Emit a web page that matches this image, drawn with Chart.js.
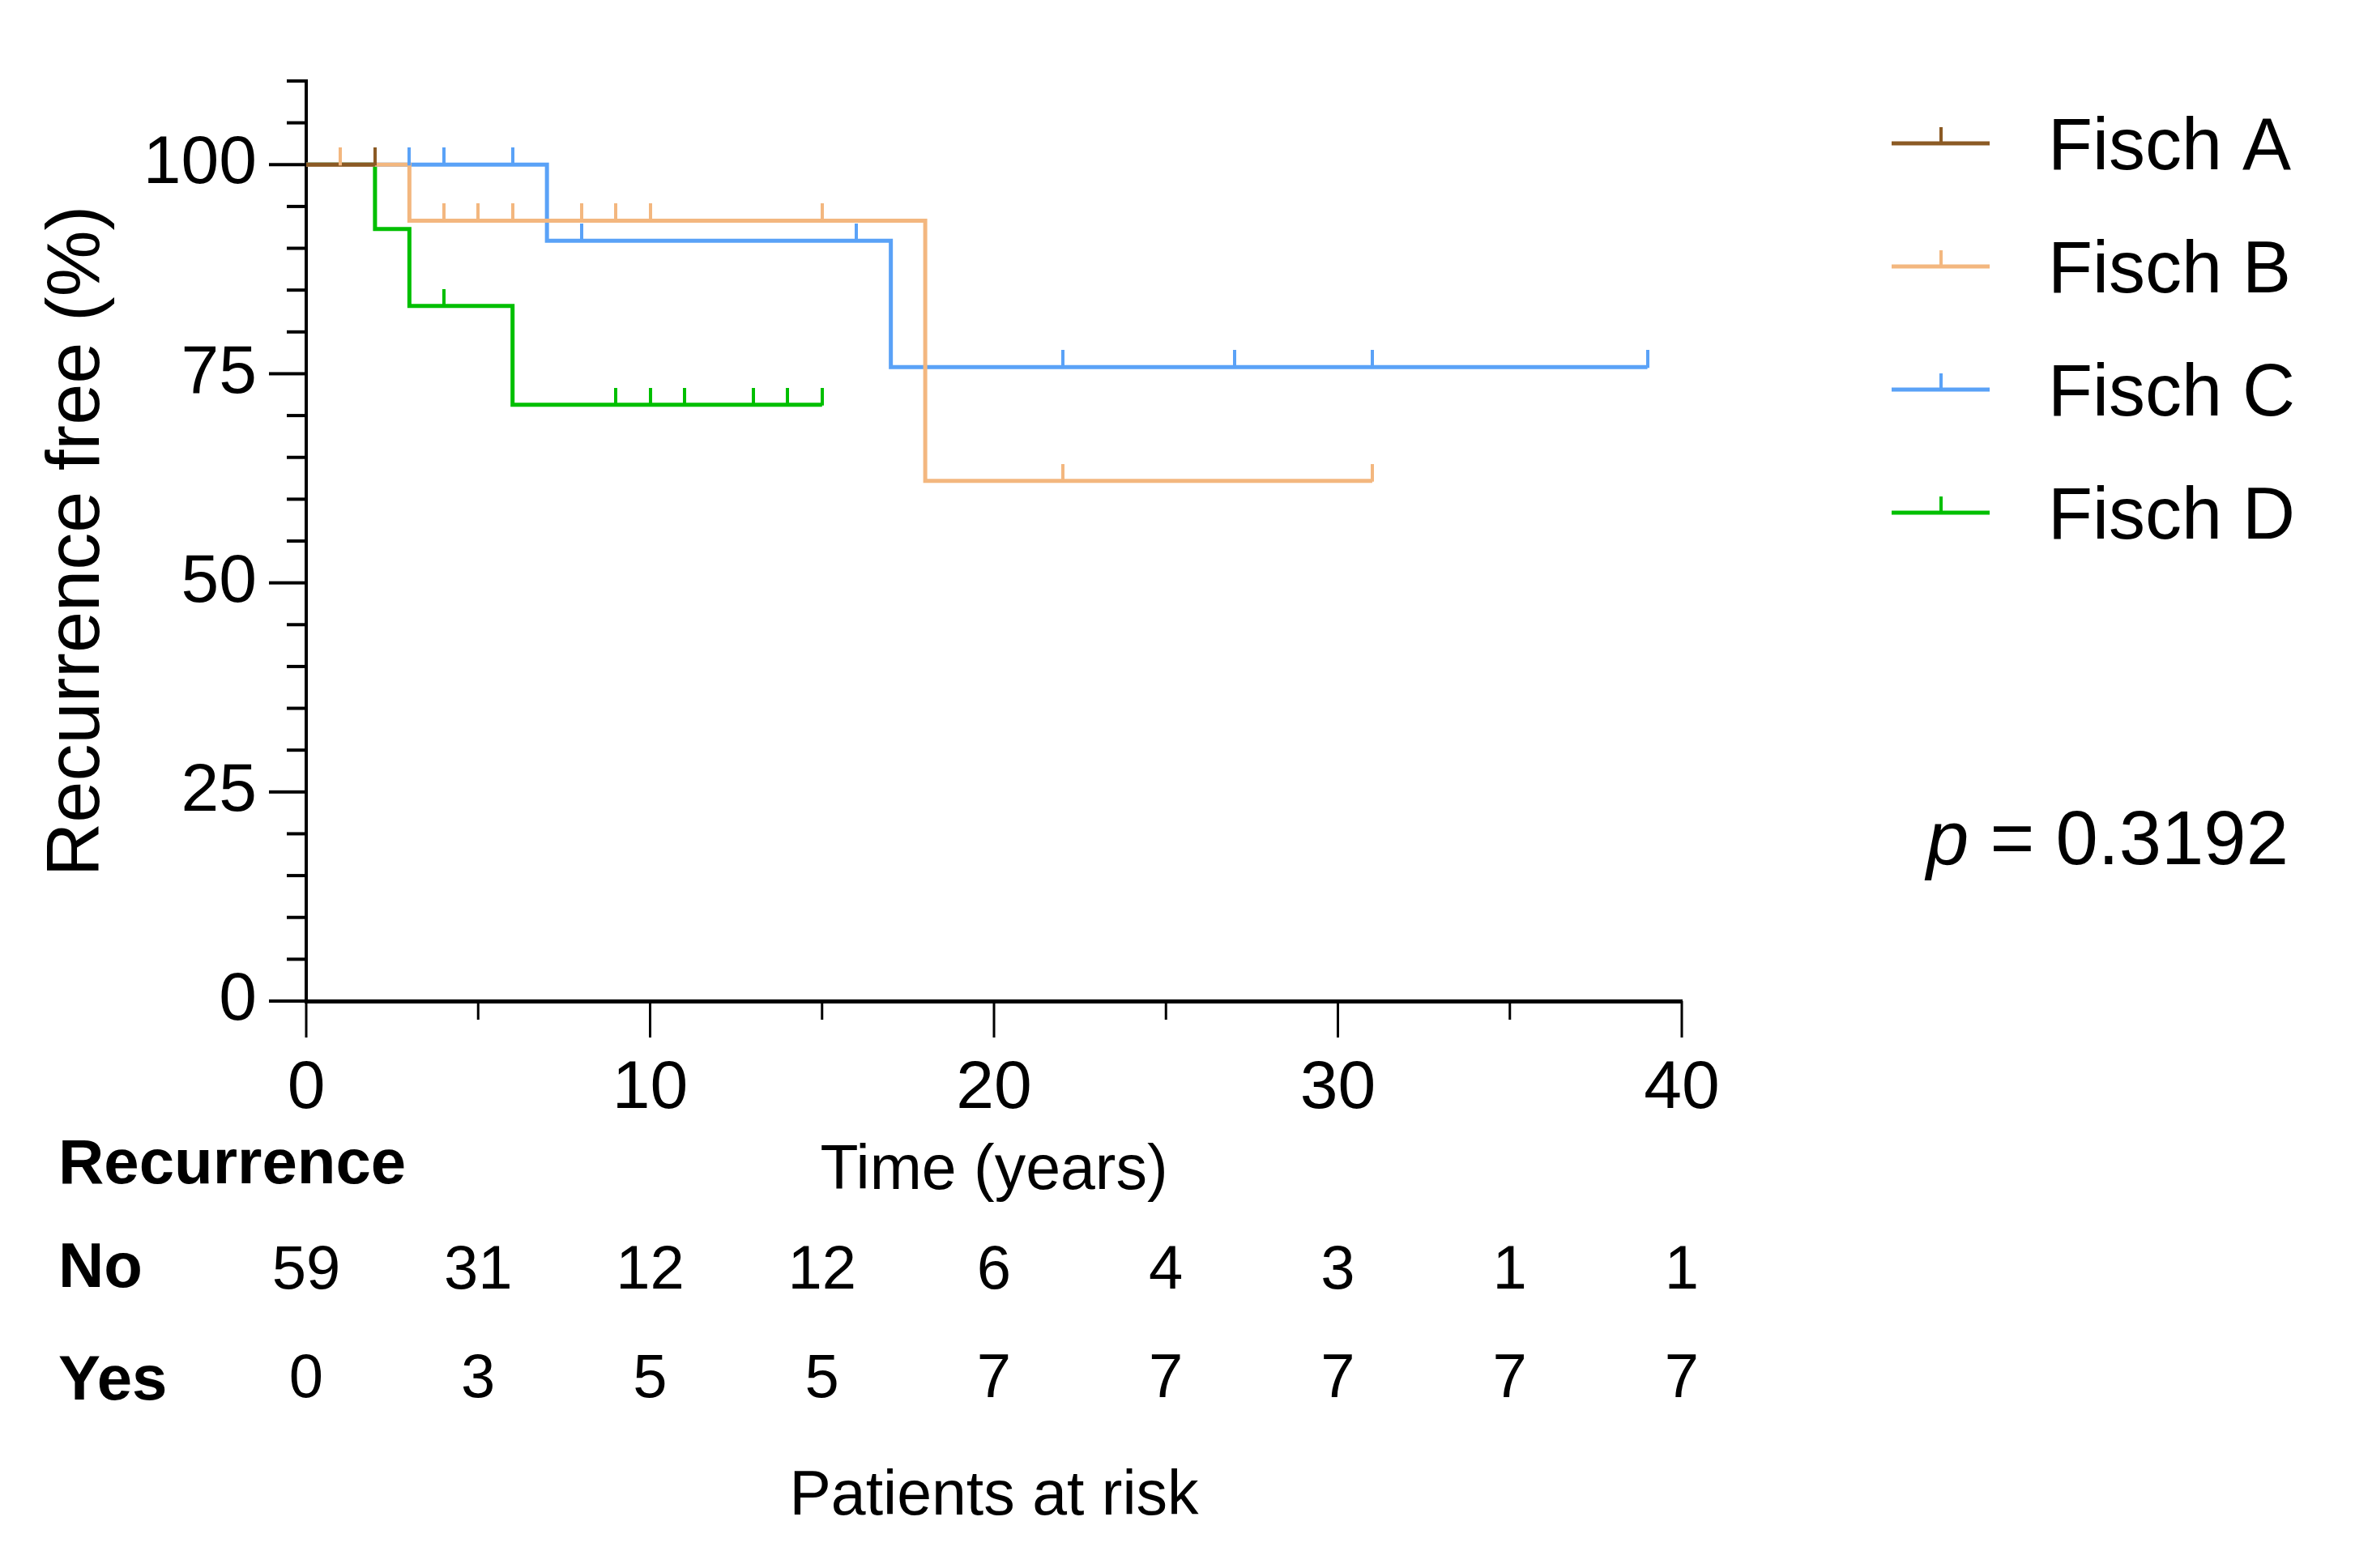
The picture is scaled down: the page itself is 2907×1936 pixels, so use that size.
<!DOCTYPE html>
<html>
<head>
<meta charset="utf-8">
<script src="https://cdn.jsdelivr.net/npm/chart.js@4.4.1/dist/chart.umd.min.js"></script>
<style>
  html, body { margin: 0; padding: 0; background: #fff; }
  #wrap { width: 2907px; height: 1936px; position: relative; }
</style>
</head>
<body>
<div id="wrap"><canvas id="km"></canvas></div>
<script>
    const groupNames = ['Fisch A', 'Fisch B', 'Fisch C', 'Fisch D'];
    const groupColors = ['#8B5A24', '#F3B77F', '#5AA2F7', '#00BF00'];

    // event times and survival (%) after each step
    const timesA = [0, 2];
    const survA = [100, 100];
    const censorA = [2];

    const timesB = [0, 3, 18, 31];
    const survB = [100, 93.3, 62.2, 62.2];
    const censorB = [1, 4, 5, 6, 8, 9, 10, 15, 22, 31];

    const timesC = [0, 7, 17, 39];
    const survC = [100, 90.9, 75.8, 75.8];
    const censorC = [3, 4, 6, 8, 16, 22, 27, 31, 39];

    const timesD = [0, 2, 3, 6, 15];
    const survD = [100, 92.3, 83.1, 71.3, 71.3];
    const censorD = [4, 9, 10, 11, 13, 14, 15];

    const riskTimes = [0, 5, 10, 15, 20, 25, 30, 35, 40];
    const riskNo = [59, 31, 12, 12, 6, 4, 3, 1, 1];
    const riskYes = [0, 3, 5, 5, 7, 7, 7, 7, 7];

    const pText = ' = 0.3192';

    const FONT = '"Liberation Sans", Arial, sans-serif';

    const allTimes = [timesA, timesB, timesC, timesD];
    const allSurv = [survA, survB, survC, survD];
    const allCensor = [censorA, censorB, censorC, censorD];

    function survAt(times, surv, t) {
        let s = surv[0];
        for (let i = 0; i < times.length; i++) {
            if (times[i] <= t) s = surv[i];
        }
        return s;
    }

    function censorMark(color) {
        const c = document.createElement('canvas');
        c.width = 4;
        c.height = 42;
        const g = c.getContext('2d');
        g.fillStyle = color;
        g.fillRect(0, 0, 4, 22);
        return c;
    }

    const censorSets = groupNames.map((name, i) => ({
        type: 'scatter',
        label: name + ' censored',
        data: allCensor[i].map(t => ({ x: t, y: survAt(allTimes[i], allSurv[i], t) })),
        pointStyle: censorMark(groupColors[i]),
        pointRadius: 3,
        showLine: false,
        clip: false
    }));

    const lineSets = groupNames.map((name, i) => ({
        type: 'line',
        label: name,
        data: allTimes[i].map((t, j) => ({ x: t, y: allSurv[i][j] })),
        borderColor: groupColors[i],
        borderWidth: 5,
        stepped: true,
        pointRadius: 0,
        fill: false,
        borderCapStyle: 'butt',
        borderJoinStyle: 'miter'
    }));

    const extras = {
        id: 'extras',
        afterDraw(chart) {
            const ctx = chart.ctx;
            const xs = chart.scales.x;
            const ys = chart.scales.y;
            const area = chart.chartArea;
            ctx.save();
            ctx.fillStyle = '#000';

            // axis ticks
            for (let v = 0; v <= 110; v += 5) {
                const py = ys.getPixelForValue(v);
                const len = v % 25 === 0 ? 46 : 24;
                ctx.fillRect(area.left - len, py - 2, len, 4);
            }
            for (let v = 0; v <= 40; v += 5) {
                const px = xs.getPixelForValue(v);
                const len = v % 10 === 0 ? 45 : 23;
                ctx.fillRect(px - 1.5, area.bottom, 3, len);
            }

            // y title
            ctx.save();
            ctx.translate(122, (area.top + area.bottom) / 2);
            ctx.rotate(-Math.PI / 2);
            ctx.font = '92px ' + FONT;
            ctx.textAlign = 'center';
            ctx.textBaseline = 'alphabetic';
            ctx.fillText('Recurrence free (%)', 0, 0);
            ctx.restore();

            // legend
            groupNames.forEach((name, i) => {
                const y = 177 + 152 * i;
                ctx.fillStyle = groupColors[i];
                ctx.fillRect(2335, y - 2.5, 121, 5);
                ctx.fillRect(2394, y - 20, 4, 20);
                ctx.fillStyle = '#000';
                ctx.font = '90px ' + FONT;
                ctx.textAlign = 'left';
                ctx.textBaseline = 'alphabetic';
                ctx.fillText(name, 2528, y + 32);
            });

            // p value
            ctx.textAlign = 'left';
            ctx.font = 'italic 94px ' + FONT;
            ctx.fillText('p', 2378, 1067);
            const pw = ctx.measureText('p').width;
            ctx.font = '94px ' + FONT;
            ctx.fillText(pText, 2378 + pw, 1067);

            // bottom texts
            const midX = (area.left + area.right) / 2;
            ctx.font = 'bold 78px ' + FONT;
            ctx.fillText('Recurrence', 72, 1461);
            ctx.fillText('No', 72, 1589);
            ctx.fillText('Yes', 72, 1728);

            ctx.textAlign = 'center';
            ctx.font = '77px ' + FONT;
            ctx.fillText('Time (years)', midX, 1468);
            ctx.fillText('Patients at risk', midX, 1870);

            ctx.font = '76px ' + FONT;
            riskTimes.forEach((t, i) => {
                const px = xs.getPixelForValue(t);
                ctx.fillText(String(riskNo[i]), px, 1591);
                ctx.fillText(String(riskYes[i]), px, 1725);
            });
            ctx.restore();
        }
    };

    const chart = new Chart(document.getElementById('km'), {
        data: { datasets: [...censorSets, ...lineSets] },
        options: {
            responsive: true,
            maintainAspectRatio: false,
            devicePixelRatio: 1,
            animation: false,
            layout: { padding: { top: 100, right: 831, left: 0, bottom: 0 } },
            plugins: {
                legend: { display: false },
                tooltip: { enabled: false }
            },
            scales: {
                x: {
                    type: 'linear',
                    min: 0,
                    max: 40,
                    grid: { display: false, drawTicks: false },
                    border: { display: true, color: '#000', width: 5 },
                    ticks: {
                        stepSize: 10,
                        padding: 58,
                        color: '#000',
                        font: { family: FONT, size: 84 },
                        maxRotation: 0
                    },
                    afterFit(scale) {
                        scale.height = 700;
                        scale.paddingLeft = 0;
                        scale.paddingRight = 0;
                    }
                },
                y: {
                    type: 'linear',
                    min: 0,
                    max: 110,
                    grid: { display: false, drawTicks: false },
                    border: { display: true, color: '#000', width: 4 },
                    ticks: {
                        stepSize: 5,
                        autoSkip: false,
                        padding: 61,
                        color: '#000',
                        font: { family: FONT, size: 84 },
                        callback: v => (v % 25 === 0 ? v : '')
                    },
                    afterFit(scale) {
                        scale.width = 378;
                        scale.paddingTop = 0;
                        scale.paddingBottom = 0;
                    }
                }
            }
        },
        plugins: [extras]
    });
</script>
</body>
</html>
